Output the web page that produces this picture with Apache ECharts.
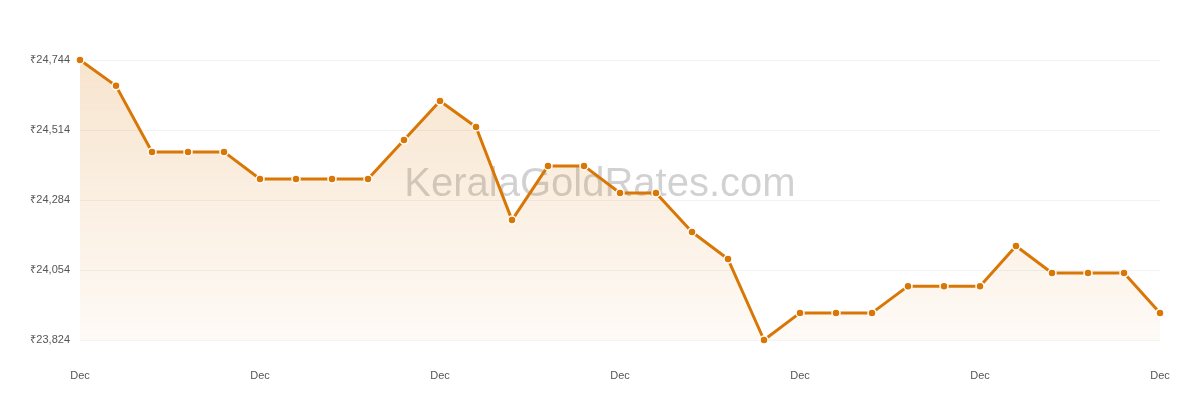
<!DOCTYPE html>
<html><head><meta charset="utf-8">
<script src="https://cdn.jsdelivr.net/npm/echarts@6/dist/echarts.min.js"></script>
<style>html,body{margin:0;padding:0;background:#fff}#c{width:1200px;height:400px}</style>
</head><body><div id="c"></div>
<script>
const categories = Array.from({length:31}, () => 'Dec');
const prices = [24744,24659,24442,24442,24442,24353,24353,24353,24353,24481,24609,24524,24218,24396,24396,24307,24307,24179,24090,23824,23913,23913,23913,24001,24001,24001,24133,24044,24044,24044,23913];
const chart = echarts.init(document.getElementById('c'));
chart.setOption({
  animation:false,
  grid:{left:80,right:40,top:60,bottom:60},
  graphic:[{type:'text',left:'center',top:165,style:{text:'KeralaGoldRates.com',fontSize:40,fill:'rgba(0,0,0,0.18)',fontFamily:'Liberation Sans, Arial'}}],
  xAxis:{type:'category',boundaryGap:false,data:categories,
    axisLine:{show:false},axisTick:{show:false},
    axisLabel:{interval:4,color:'#555',fontSize:11,margin:30,showMaxLabel:true,fontFamily:'Liberation Sans, Arial'},
    splitLine:{show:false}},
  yAxis:{type:'value',min:23824,max:24744,interval:230,
    axisLine:{show:false},axisTick:{show:false},
    axisLabel:{color:'#555',fontSize:11,margin:10,fontFamily:'Liberation Sans, Arial',formatter:v=>'₹'+v.toLocaleString('en-US')},
    splitLine:{lineStyle:{color:'#f2f2f2'}}},
  series:[{type:'line',data:prices,symbol:'circle',symbolSize:8,
    lineStyle:{color:'#d97706',width:3},
    itemStyle:{color:'#d97706',borderColor:'#fff',borderWidth:1.5},
    areaStyle:{color:new echarts.graphic.LinearGradient(0,0,0,1,[{offset:0,color:'rgba(217,119,6,0.28)'},{offset:1,color:'rgba(217,119,6,0.05)'}])}}]
});
</script></body></html>
